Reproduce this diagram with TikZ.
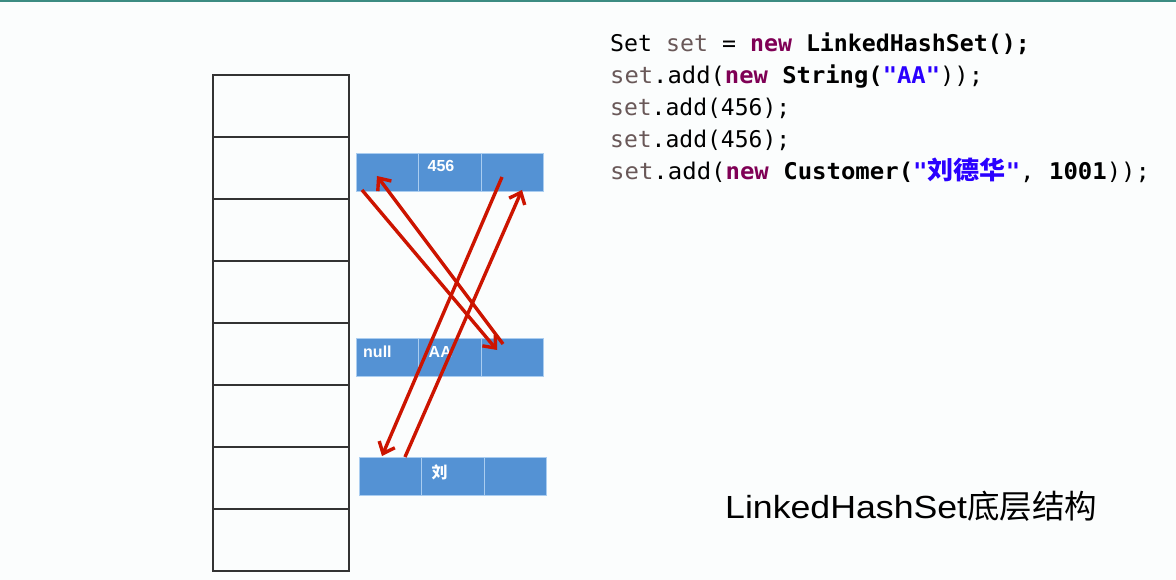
\documentclass[tikz,border=0pt]{standalone}
\usepackage{fontspec}
\usepackage{graphicx}
\setmainfont{Liberation Sans}
\newfontfamily\cjk{Noto Sans CJK SC}
\newfontfamily\codefont{DejaVu Sans Mono}
\usetikzlibrary{arrows.meta}
\definecolor{bgc}{RGB}{251,253,253}
\definecolor{topline}{RGB}{60,140,130}
\definecolor{cellblue}{RGB}{84,146,212}
\definecolor{cellline}{RGB}{170,205,240}
\definecolor{arrred}{RGB}{204,20,0}
\definecolor{kwc}{RGB}{127,0,85}
\definecolor{strc}{RGB}{42,0,255}
\definecolor{varc}{RGB}{105,88,88}
\tikzset{
  tablerow/.style={draw=black!80, line width=1.6pt, minimum width=136pt, minimum height=62pt, inner sep=0pt, outer sep=0pt},
  cell/.style={draw=cellline, fill=cellblue, line width=1pt, minimum width=62.5pt, minimum height=38pt, inner sep=0pt, outer sep=0pt},
  lbl/.style={text=white, font=\fontsize{16}{18}\selectfont\bfseries, inner sep=0pt, anchor=base west},
  link/.style={draw=arrred, line width=3.4pt, -{Straight Barb[length=10pt,width=17pt]}},
  codeline/.style={anchor=base west, inner sep=0pt, font=\codefont\fontsize{23}{28}\selectfont},
}
\begin{document}
\begin{tikzpicture}[x=1pt,y=-1pt]
\fill[bgc] (0,0) rectangle (1176,580);
\useasboundingbox (0,0) rectangle (1176,580);
\draw[topline, line width=2.5pt] (0,1) -- (1176,1);
% hash table
\foreach \i in {0,...,7} {
  \node[tablerow] (r\i) at (281,{106+62*\i}) {};
}
% node 456
\node[cell] (a1) at (387.25,172.5) {};
\node[cell] (a2) at (449.75,172.5) {};
\node[cell] (a3) at (512.25,172.5) {};
% node AA
\node[cell] (b1) at (387.25,357) {};
\node[cell] (b2) at (449.75,357) {};
\node[cell] (b3) at (512.25,357) {};
% node liu
\node[cell] (c1) at (390.25,476) {};
\node[cell] (c2) at (452.75,476) {};
\node[cell] (c3) at (515.25,476) {};
\node[lbl] (t456) at ([shift={(9,18)}]a2.north west) {456};
\node[lbl] (tnull) at ([shift={(7,19)}]b1.north west) {null};
\node[lbl] (taa) at ([shift={(10,19)}]b2.north west) {AA};
\node[lbl] (tliu) at ([shift={(10,21)}]c2.north west) {\cjk\bfseries 刘};
% link points
\coordinate (pa1) at (362,190);
\coordinate (pb3) at (497,350);
\coordinate (qb3) at (503,344);
\coordinate (qa1) at (377,176);
\coordinate (pa3) at (502,177);
\coordinate (pc1) at (382,456);
\coordinate (qc1) at (405,457);
\coordinate (qa3) at (522,190);
\draw[link] (pa1) -- (pb3);
\draw[link] (qb3) -- (qa1);
\draw[link] (pa3) -- (pc1);
\draw[link] (qc1) -- (qa3);
% code
\node[codeline] (l1) at (610,52) {\scalebox{1.01}[1]{Set {\color{varc}set} = {\bfseries\color{kwc}new} {\bfseries LinkedHashSet();}}};
\node[codeline] (l2) at (610,84) {\scalebox{1.036}[1]{{\color{varc}set}.add({\bfseries\color{kwc}new} {\bfseries String(}{\bfseries\color{strc}"AA"}));}};
\node[codeline] (l3) at (610,116) {{\color{varc}set}.add(456);};
\node[codeline] (l4) at (610,148) {{\color{varc}set}.add(456);};
\node[codeline] (l5) at (610,180) {\scalebox{1.042}[1]{{\color{varc}set}.add({\bfseries\color{kwc}new} {\bfseries Customer(}{\bfseries\color{strc}"{\cjk\bfseries\fontsize{25}{28}\selectfont 刘德华}"}, {\bfseries 1001}));}};
% title
\node[anchor=base west, inner sep=0pt, font=\fontsize{32}{38}\selectfont] (title) at (725,518) {\scalebox{1.115}[1]{LinkedHashSet}{\cjk\fontsize{32.5}{38}\selectfont 底层结构}};
\end{tikzpicture}
\end{document}
